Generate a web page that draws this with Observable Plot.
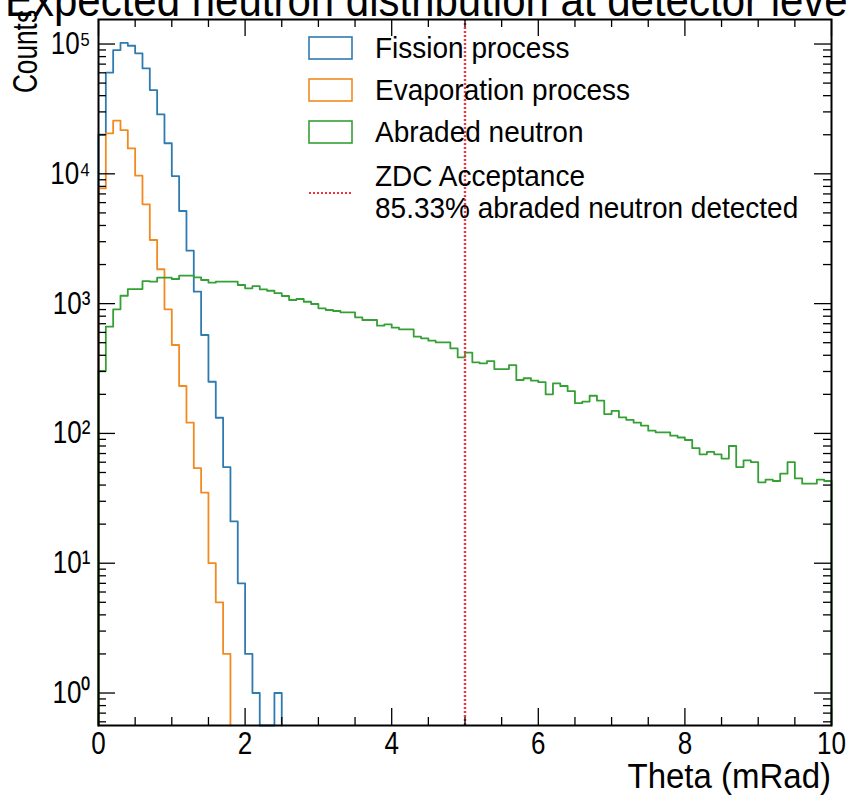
<!DOCTYPE html>
<html>
<head>
<meta charset="utf-8">
<script src="https://cdn.jsdelivr.net/npm/d3@7"></script>
<script src="https://cdn.jsdelivr.net/npm/@observablehq/plot@0.6"></script>
<style>
  html, body { margin: 0; padding: 0; background: #fff; }
  #wrap { position: relative; width: 850px; height: 799px; overflow: hidden; }
</style>
</head>
<body>
<div id="wrap"></div>
<script>
// ---------- data ----------
const title = "Expected neutron distribution at detector level";
const xLabel = "Theta (mRad)";
const yLabel = "Counts";
const binWidth = 0.1; // mrad
const seriesNames = ["Fission process", "Evaporation process", "Abraded neutron"];
const seriesColors = ["#2f7bb0", "#f28a22", "#35a035"];
const zdcCut = 5; // mrad
const zdcColor = "#f0363c";
const zdcLabel = ["ZDC Acceptance", "85.33% abraded neutron detected"];

// counts per 0.1 mrad bin, starting at theta = 0
const fission = [20000, 60100, 89900, 102000, 97000, 84800, 65000, 44200, 28700, 17200,
  9600, 5170, 2560, 1236, 573, 250, 132, 55, 21, 7,
  2, 1, 0, 0, 1];
const evaporation = [7730, 20500, 25700, 21700, 15700, 9670, 5820, 3090, 1840, 904,
  480, 232, 121, 54, 35, 10, 5, 2];
const abraded = [303, 664, 904, 1150, 1295, 1295, 1493, 1475, 1584, 1584,
  1548, 1641, 1641, 1594, 1520, 1449, 1475, 1475, 1475, 1391,
  1312, 1362, 1286, 1257, 1204, 1145, 1066, 1085, 1034, 993,
  920, 893, 877, 857, 857, 784, 748, 748, 676, 692,
  653, 634, 634, 556, 540, 518, 503, 503, 452, 386,
  419, 353, 347, 361, 313, 313, 336, 258, 266, 255,
  248, 200, 243, 232, 212, 171, 176, 195, 179, 141,
  149, 133, 127, 121, 115, 105, 102, 102, 96, 93,
  89, 77, 69, 72, 69, 64, 80, 55, 62, 60,
  42, 44, 43, 49, 60, 45, 41, 41, 44, 43];

const xDomain = [0, 10];
const yDomain = [0.562, 1.545e5];
const xMajorTicks = [0, 2, 4, 6, 8, 10];
const xTickLabels = ["0", "2", "4", "6", "8", "10"];
const yMajorTicks = [1, 10, 100, 1000, 10000, 100000];
const yTickLabels = ["10\u2070", "10\u00b9", "10\u00b2", "10\u00b3", "10\u2074", "10\u2075"];

// ---------- layout ----------
const W = 850, H = 799;
const mL = 98, mR = 19, mT = 19, mB = 74;
const fw = W - mL - mR, fh = H - mT - mB;
const majorLen = 17, minorLen = 8;
const font = "'Liberation Sans', Arial, Helvetica, sans-serif";

const xMinorTicks = d3.range(0, 10.001, 0.5).filter(v => Math.abs(v / 2 - Math.round(v / 2)) > 1e-9);
const yMinorTicks = [];
for (let e = -1; e <= 5; e++) for (let m = 2; m <= 9; m++) {
  const v = m * Math.pow(10, e);
  if (v > yDomain[0] && v < yDomain[1]) yMinorTicks.push(v);
}

function steps(counts, name) {
  const floor = yDomain[0];
  const pts = [{x: 0, y: floor, name}];
  counts.forEach((c, i) => pts.push({x: i * binWidth, y: Math.max(c, floor), name}));
  pts.push({x: counts.length * binWidth, y: floor, name});
  return pts;
}
const seriesData = [fission, evaporation, abraded];
const lines = seriesData.map((s, i) =>
  Plot.line(steps(s, seriesNames[i]), {x: "x", y: "y", curve: "step-after", stroke: seriesColors[i], strokeWidth: 1.8})
);

const tickStyle = {stroke: "#000", strokeWidth: 1.3};
const plot = Plot.plot({
  width: W, height: H,
  marginLeft: mL, marginRight: mR, marginTop: mT, marginBottom: mB,
  style: {fontFamily: font, background: "#fff", color: "#000"},
  x: {domain: xDomain},
  y: {type: "log", domain: yDomain},
  marks: [
    ...lines,
    Plot.ruleX([zdcCut], {x: d => d, stroke: zdcColor, strokeWidth: 2.4, strokeDasharray: "2,2"}),
    Plot.tickY(yMajorTicks, {y: d => d, insetRight: fw - majorLen, ...tickStyle}),
    Plot.tickY(yMajorTicks, {y: d => d, insetLeft: fw - majorLen, ...tickStyle}),
    Plot.tickY(yMinorTicks, {y: d => d, insetRight: fw - minorLen, ...tickStyle}),
    Plot.tickY(yMinorTicks, {y: d => d, insetLeft: fw - minorLen, ...tickStyle}),
    Plot.tickX(xMajorTicks, {x: d => d, insetTop: fh - majorLen, ...tickStyle}),
    Plot.tickX(xMajorTicks, {x: d => d, insetBottom: fh - majorLen, ...tickStyle}),
    Plot.tickX(xMinorTicks, {x: d => d, insetTop: fh - minorLen, ...tickStyle}),
    Plot.tickX(xMinorTicks, {x: d => d, insetBottom: fh - minorLen, ...tickStyle}),
    Plot.axisX({ticks: xMajorTicks, tickSize: 0, tickPadding: 6, fontSize: 28,
      tickFormat: d => xTickLabels[xMajorTicks.indexOf(d)], label: null}),
    Plot.axisY({ticks: yMajorTicks, tickSize: 0, tickPadding: 8, fontSize: 28,
      tickFormat: d => yTickLabels[yMajorTicks.indexOf(d)], label: null}),
    Plot.frame({stroke: "#000", strokeWidth: 2})
  ]
});

document.getElementById("wrap").appendChild(plot);
const svg = d3.select(plot);

// stretch tick labels slightly taller/narrower like the reference
svg.selectAll("g[aria-label='x-axis tick label'] text, g[aria-label='y-axis tick label'] text")
  .each(function() {
    const tr = this.getAttribute("transform") || "";
    this.setAttribute("transform", tr + " scale(0.93,1.12)");
  });

function addText(str, x, y, opts = {}) {
  return svg.append("text")
    .attr("transform", `translate(${x},${y}) ${opts.rotate ? `rotate(${opts.rotate})` : ""} scale(${opts.sx || 1},${opts.sy || 1})`)
    .attr("text-anchor", opts.anchor || "start")
    .attr("dominant-baseline", opts.baseline || "central")
    .attr("font-family", font)
    .attr("font-size", opts.size || 28)
    .attr("fill", "#000")
    .text(str);
}

// title (partly outside the picture, as in the reference)
addText(title, 5, 16, {size: 42, baseline: "alphabetic", sy: 1.08});
// axis labels
addText(xLabel, 831, 776, {size: 33, anchor: "end", sy: 1.08});
addText(yLabel, 25, 10, {size: 32, anchor: "end", rotate: -90, sx: 0.82, sy: 1.08});

// legend
const lgX = 309, patchW = 43, patchH = 22, txtX = 375;
const rowY = [48, 90, 132];
seriesNames.forEach((n, i) => {
  svg.append("rect").attr("x", lgX).attr("y", rowY[i] - patchH / 2).attr("width", patchW).attr("height", patchH)
    .attr("fill", "none").attr("stroke", seriesColors[i]).attr("stroke-width", 1.6);
  addText(n, txtX, rowY[i], {size: 28, sy: 1.08});
});
svg.append("line").attr("x1", lgX).attr("x2", lgX + patchW).attr("y1", 193).attr("y2", 193)
  .attr("stroke", zdcColor).attr("stroke-width", 2).attr("stroke-dasharray", "2,2");
addText(zdcLabel[0], txtX, 176, {size: 28, sy: 1.08});
addText(zdcLabel[1], txtX, 208, {size: 28, sy: 1.08});
</script>
</body>
</html>
